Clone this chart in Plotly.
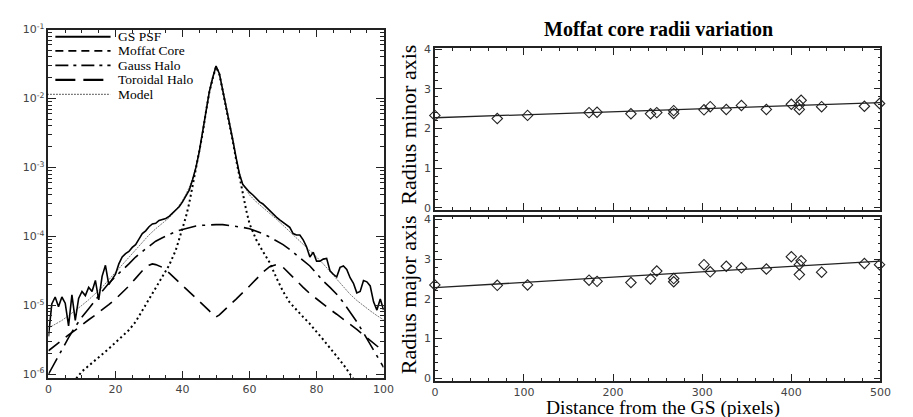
import plotly.graph_objects as go

# ---------------- Left panel data (log10 of intensity) ----------------
psf_x = list(range(0, 101))
psf_log10 = [-5.45, -4.98, -4.88, -5.02, -4.88, -4.97, -5.30, -4.85, -5.22, -4.90,
             -4.80, -4.86, -4.74, -4.80, -4.64, -4.92, -4.58, -4.42, -4.70, -4.62,
             -4.55, -4.40, -4.30, -4.25, -4.22, -4.16, -4.12, -4.04, -3.96, -3.92,
             -3.86, -3.82, -3.81, -3.77, -3.76, -3.74, -3.71, -3.66, -3.62, -3.57,
             -3.50, -3.42, -3.33, -3.18, -3.00, -2.77, -2.50, -2.18, -1.90, -1.70,
             -1.53, -1.64, -1.87, -2.12, -2.36, -2.60, -2.86, -3.10, -3.25, -3.31,
             -3.36, -3.40, -3.45, -3.50, -3.53, -3.58, -3.62, -3.68, -3.72, -3.76,
             -3.80, -3.84, -3.87, -3.96, -3.98, -3.98, -4.05, -4.15, -4.30, -4.23,
             -4.36, -4.36, -4.33, -4.32, -4.50, -4.55, -4.59, -4.45, -4.43, -4.48,
             -4.60, -4.68, -4.82, -4.80, -4.64, -4.66, -4.72, -4.95, -5.07, -4.91,
             -5.07]

moffat_x = [0, 2, 4, 6, 8, 10, 12, 14, 16, 18, 20, 22, 24, 26, 28, 30, 32, 34, 36, 38,
            40, 41, 42, 43, 44, 45, 46, 47, 48, 49, 50, 51, 52, 53, 54, 55, 56, 57, 58, 59,
            60, 62, 64, 66, 68, 70, 72, 74, 76, 78, 80, 82, 84, 86, 88, 90, 92, 94, 96, 98, 100]
moffat_log10 = [-6.75, -6.55, -6.38, -6.22, -6.08, -5.96, -5.88, -5.80, -5.72, -5.63,
                -5.54, -5.45, -5.36, -5.24, -5.08, -4.90, -4.74, -4.58, -4.42, -4.20,
                -3.90, -3.72, -3.52, -3.28, -3.04, -2.79, -2.51, -2.19, -1.91, -1.71,
                -1.54, -1.65, -1.88, -2.13, -2.37, -2.62, -2.89, -3.15, -3.40, -3.62,
                -3.82, -4.05, -4.22, -4.38, -4.60, -4.80, -4.96, -5.07, -5.17, -5.27,
                -5.38, -5.50, -5.62, -5.74, -5.86, -6.00, -6.13, -6.27, -6.42, -6.57, -6.72]

gauss_x = [0, 2, 4, 6, 8, 10, 12, 14, 16, 18, 20, 22, 24, 26, 28, 30, 32, 34, 36, 38,
           40, 42, 44, 46, 48, 50, 52, 54, 56, 58, 60, 62, 64, 66, 68, 70, 72, 74, 76, 78,
           80, 82, 84, 86, 88, 90, 92, 94, 96, 98, 100]
gauss_log10 = [-6.00, -5.82, -5.65, -5.47, -5.31, -5.17, -5.05, -4.92, -4.80, -4.68,
               -4.58, -4.49, -4.40, -4.30, -4.22, -4.14, -4.07, -4.02, -3.97, -3.93,
               -3.90, -3.87, -3.85, -3.84, -3.83, -3.83, -3.83, -3.84, -3.85, -3.87,
               -3.89, -3.92, -3.96, -4.01, -4.06, -4.12, -4.19, -4.27, -4.35, -4.43,
               -4.54, -4.65, -4.74, -4.84, -4.96, -5.10, -5.24, -5.40, -5.56, -5.73, -5.90]

toroid_x = [0, 2, 4, 6, 8, 10, 12, 14, 16, 18, 20, 22, 24, 26, 28, 30, 31, 32, 34, 36,
            38, 40, 42, 44, 46, 48, 49, 50, 51, 52, 54, 56, 58, 60, 62, 64, 66, 68, 70, 72,
            74, 76, 78, 80, 82, 84, 86, 88, 90, 92, 94, 96, 98, 100]
toroid_log10 = [-5.66, -5.58, -5.50, -5.43, -5.36, -5.28, -5.21, -5.14, -5.07, -4.99,
                -4.91, -4.82, -4.72, -4.61, -4.50, -4.42, -4.40, -4.41, -4.45, -4.53,
                -4.62, -4.71, -4.80, -4.90, -4.99, -5.08, -5.14, -5.17, -5.14, -5.09,
                -5.00, -4.91, -4.82, -4.72, -4.62, -4.52, -4.44, -4.41, -4.45, -4.55,
                -4.65, -4.74, -4.83, -4.91, -4.99, -5.06, -5.13, -5.20, -5.27, -5.35,
                -5.43, -5.51, -5.59, -5.67]

model_x = [0, 2, 4, 6, 8, 10, 12, 14, 16, 18, 20, 22, 24, 26, 28, 30, 32, 34, 36, 38,
           40, 41, 42, 43, 44, 45, 46, 47, 48, 49, 50, 51, 52, 53, 54, 55, 56, 57, 58, 59,
           60, 62, 64, 66, 68, 70, 72, 74, 76, 78, 80, 82, 84, 86, 88, 90, 92, 94, 96, 98, 100]
model_log10 = [-5.33, -5.28, -5.22, -5.15, -5.08, -5.00, -4.92, -4.83, -4.74, -4.63,
               -4.52, -4.41, -4.31, -4.19, -4.08, -3.98, -3.89, -3.81, -3.73, -3.62,
               -3.48, -3.39, -3.29, -3.16, -3.00, -2.77, -2.50, -2.18, -1.90, -1.70,
               -1.53, -1.64, -1.87, -2.12, -2.36, -2.60, -2.86, -3.08, -3.24, -3.33,
               -3.40, -3.50, -3.58, -3.66, -3.75, -3.84, -3.93, -4.02, -4.11, -4.20,
               -4.30, -4.40, -4.51, -4.62, -4.73, -4.84, -4.93, -5.01, -5.08, -5.15, -5.21]

legend_labels = ["GS PSF", "Moffat Core", "Gauss Halo", "Toroidal Halo", "Model"]
log_tick_exponents = [-6, -5, -4, -3, -2, -1]
left_x_ticks = [0, 20, 40, 60, 80, 100]

# ---------------- Right panel data ----------------
dist = [0, 70, 104, 173, 182, 220, 242, 249, 268, 268, 302, 309, 327, 344, 372,
        400, 409, 409, 411, 434, 482, 499]
r_minor = [2.33, 2.25, 2.33, 2.40, 2.41, 2.37, 2.37, 2.40, 2.45, 2.38, 2.47, 2.55,
           2.48, 2.58, 2.48, 2.61, 2.59, 2.48, 2.71, 2.55, 2.56, 2.63]
r_major = [2.35, 2.34, 2.35, 2.47, 2.44, 2.41, 2.50, 2.70, 2.51, 2.43, 2.86, 2.68,
           2.82, 2.78, 2.75, 3.06, 2.86, 2.61, 2.96, 2.67, 2.89, 2.86]
fit_x = [0, 500]
fit_minor = [2.27, 2.65]
fit_major = [2.28, 2.95]
right_x_ticks = [0, 100, 200, 300, 400, 500]
right_y_ticks = [0, 1, 2, 3, 4]

W, H = 913, 417
SERIF = "Liberation Serif, Times New Roman, serif"
SANS = "DejaVu Sans, sans-serif"
TICKCOL = "#444"
AXCOL = "#222"


def fx(p):
    return p / W


def fy(p):
    return 1 - p / H


def lin(arr):
    return [10 ** v for v in arr]


fig = go.Figure()

fig.add_trace(go.Scatter(x=toroid_x, y=lin(toroid_log10), mode="lines",
                         line=dict(color="black", width=1.6, dash="14px,8px"),
                         xaxis="x", yaxis="y", showlegend=False))
fig.add_trace(go.Scatter(x=gauss_x, y=lin(gauss_log10), mode="lines",
                         line=dict(color="black", width=1.6, dash="18px,6px,3px,6px"),
                         xaxis="x", yaxis="y", showlegend=False))
fig.add_trace(go.Scatter(x=moffat_x, y=lin(moffat_log10), mode="lines",
                         line=dict(color="black", width=2, dash="2px,3px"),
                         xaxis="x", yaxis="y", showlegend=False))
fig.add_trace(go.Scatter(x=model_x, y=lin(model_log10), mode="lines",
                         line=dict(color="#777", width=1, dash="2px,1px"),
                         xaxis="x", yaxis="y", showlegend=False))
fig.add_trace(go.Scatter(x=psf_x, y=lin(psf_log10), mode="lines",
                         line=dict(color="black", width=1.6),
                         xaxis="x", yaxis="y", showlegend=False))

marker_style = dict(symbol="diamond-open", size=8, color="#222",
                    line=dict(width=1.1, color="#222"))
# right top
fig.add_trace(go.Scatter(x=fit_x, y=fit_minor, mode="lines",
                         line=dict(color="#222", width=1.3),
                         xaxis="x2", yaxis="y2", showlegend=False))
fig.add_trace(go.Scatter(x=dist, y=r_minor, mode="markers", marker=marker_style,
                         xaxis="x2", yaxis="y2", showlegend=False, cliponaxis=False))
# right bottom
fig.add_trace(go.Scatter(x=fit_x, y=fit_major, mode="lines",
                         line=dict(color="#222", width=1.3),
                         xaxis="x3", yaxis="y3", showlegend=False))
fig.add_trace(go.Scatter(x=dist, y=r_major, mode="markers", marker=marker_style,
                         xaxis="x3", yaxis="y3", showlegend=False, cliponaxis=False))

common = dict(showgrid=False, zeroline=False, showline=True, linecolor=AXCOL,
              linewidth=1.5, ticks="inside", tickcolor=AXCOL, mirror="allticks",
              tickfont=dict(family=SANS, size=11, color=TICKCOL))

minor_log = [m * 10 ** e for e in range(-7, 0) for m in range(2, 10)]

fig.update_layout(
    width=W, height=H,
    margin=dict(l=0, r=0, t=0, b=0),
    paper_bgcolor="white", plot_bgcolor="white",
    xaxis=dict(domain=[fx(38), fx(378)], range=[0, 100], anchor="y",
               tickvals=left_x_ticks, ticklen=8, tickwidth=1.2,
               minor=dict(dtick=5, ticklen=4, ticks="inside", tickcolor=AXCOL),
               **common),
    yaxis=dict(domain=[fy(374), fy(14)], type="log", range=[-6.06, -1.0], anchor="x",
               tickvals=[10 ** e for e in log_tick_exponents],
               ticktext=["10<sup>%d</sup>" % e for e in log_tick_exponents],
               ticklen=8, tickwidth=1.2,
               minor=dict(tickvals=minor_log, ticklen=4, ticks="inside", tickcolor=AXCOL),
               **common),
    xaxis2=dict(domain=[fx(430), fx(882)], range=[0, 500], anchor="y2",
                tickvals=right_x_ticks, showticklabels=False, ticklen=7,
                minor=dict(dtick=20, ticklen=3, ticks="inside", tickcolor=AXCOL),
                **common),
    yaxis2=dict(domain=[fy(200), fy(33)], range=[-0.05, 4.03], anchor="x2",
                tickvals=right_y_ticks, ticklen=7,
                minor=dict(dtick=0.2, ticklen=3, ticks="inside", tickcolor=AXCOL),
                **common),
    xaxis3=dict(domain=[fx(430), fx(882)], range=[0, 500], anchor="y3",
                tickvals=right_x_ticks, ticklen=7,
                minor=dict(dtick=20, ticklen=3, ticks="inside", tickcolor=AXCOL),
                **common),
    yaxis3=dict(domain=[fy(376.5), fy(207)], range=[-0.06, 4.07], anchor="x3",
                tickvals=right_y_ticks, ticklen=7,
                minor=dict(dtick=0.2, ticklen=3, ticks="inside", tickcolor=AXCOL),
                **common),
)

# ---------------- hand-drawn legend for the left panel ----------------
leg_rows = [21.5, 36, 51, 66, 81]
leg_styles = [dict(width=2, dash="solid", x0=45),
              dict(width=1.6, dash="8px,5px", x0=45),
              dict(width=1.6, dash="13px,5px,3px,5px", x0=45),
              dict(width=2.2, dash="20px,8px", x0=45),
              dict(width=1.2, dash="1px,2px", x0=37)]
shapes = []
annotations = []
for row, st, lab in zip(leg_rows, leg_styles, legend_labels):
    shapes.append(dict(type="line", xref="paper", yref="paper",
                       x0=fx(st["x0"]), x1=fx(101), y0=fy(row), y1=fy(row),
                       line=dict(color="black", width=st["width"], dash=st["dash"])))
    annotations.append(dict(text=lab, xref="paper", yref="paper", x=fx(107), y=fy(row),
                            xanchor="left", yanchor="middle", showarrow=False,
                            font=dict(family=SERIF, size=13.5, color="black")))

annotations += [
    dict(text="<b>Moffat core radii variation</b>", xref="paper", yref="paper",
         x=fx(657), y=fy(13), xanchor="center", yanchor="middle", showarrow=False,
         font=dict(family=SERIF, size=20, color="black")),
    dict(text="Radius minor axis", xref="paper", yref="paper", textangle=-90,
         x=fx(403), y=fy(112), xanchor="center", yanchor="middle", showarrow=False,
         font=dict(family=SERIF, size=22, color="black")),
    dict(text="Radius major axis", xref="paper", yref="paper", textangle=-90,
         x=fx(403), y=fy(288), xanchor="center", yanchor="middle", showarrow=False,
         font=dict(family=SERIF, size=22, color="black")),
    dict(text="Distance from the GS (pixels)", xref="paper", yref="paper",
         x=fx(661), y=fy(405), xanchor="center", yanchor="middle", showarrow=False,
         font=dict(family=SERIF, size=19.5, color="black")),
]

fig.update_layout(shapes=shapes, annotations=annotations)

fig.write_html("out.html")
